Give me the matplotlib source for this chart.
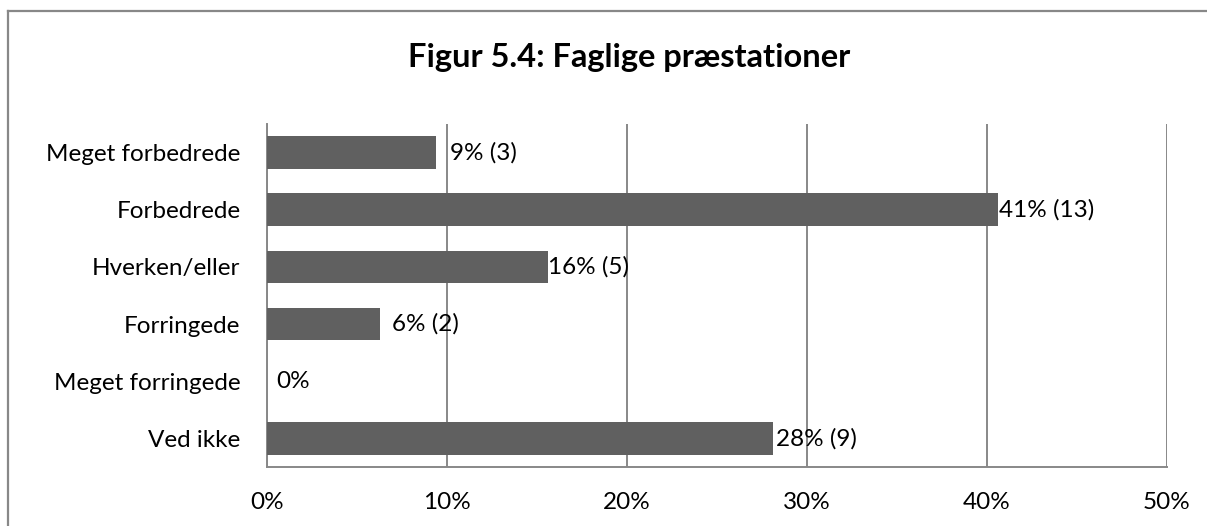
import matplotlib
matplotlib.use("Agg")
import matplotlib.pyplot as plt
from matplotlib.lines import Line2D
from matplotlib.ticker import FuncFormatter, MultipleLocator

categories = ["Meget forbedrede", "Forbedrede", "Hverken/eller", "Forringede",
              "Meget forringede", "Ved ikke"]
percent = [9.375, 40.625, 15.625, 6.25, 0.0, 28.125]
labels = ["9% (3)", "41% (13)", "16% (5)", "6% (2)", "0%", "28% (9)"]
label_offsets_pt = [10, 0.5, -0.5, 9, 7, 2]
title = "Figur 5.4: Faglige præstationer"

plt.rcParams['font.family'] = ['Lato', 'DejaVu Sans']

W, H = 1207, 526
fig = plt.figure(figsize=(W / 100, H / 100), dpi=100)
fig.patch.set_facecolor("white")

# outer chart border (only top and left visible; continues past edges)
bx, by = 7.5 / W, 1 - 10.5 / H
fig.add_artist(Line2D([bx, bx], [by, -0.1], transform=fig.transFigure,
                      color="#888888", linewidth=1.6))
fig.add_artist(Line2D([bx, 1.1], [by, by], transform=fig.transFigure,
                      color="#888888", linewidth=1.6))

ax = fig.add_axes([267 / W, 1 - 467 / H, 900 / W, 343 / H])
y = list(range(len(categories)))
ax.barh(y, percent, height=0.57, color="#606060", zorder=3)
ax.set_ylim(len(categories) - 0.5, -0.5)
ax.set_xlim(0, 50)
ax.xaxis.set_major_locator(MultipleLocator(10))
ax.xaxis.set_major_formatter(FuncFormatter(lambda v, p: f"{v:.0f}%"))
ax.set_yticks(y)
ax.set_yticklabels(categories)
ax.tick_params(axis="both", length=0, labelsize=17.5, colors="#000000")
ax.tick_params(axis="y", pad=19)
ax.tick_params(axis="x", pad=18)
ax.grid(axis="x", color="#888888", linewidth=1.4, zorder=0)
for s in ["top", "right"]:
    ax.spines[s].set_visible(False)
for s in ["left", "bottom"]:
    ax.spines[s].set_color("#888888")
    ax.spines[s].set_linewidth(1.4)

for yi, v, lab, off in zip(y, percent, labels, label_offsets_pt):
    ax.annotate(lab, xy=(v, yi), xytext=(off, 0), textcoords="offset points",
                ha="left", va="center", fontsize=17.5, color="#000000", zorder=4)

fig.text(629 / W, 1 - 58 / H, title, ha="center", va="center",
         fontsize=23.5, fontweight="bold", color="#000000")

fig.savefig("out.png", dpi=100)
